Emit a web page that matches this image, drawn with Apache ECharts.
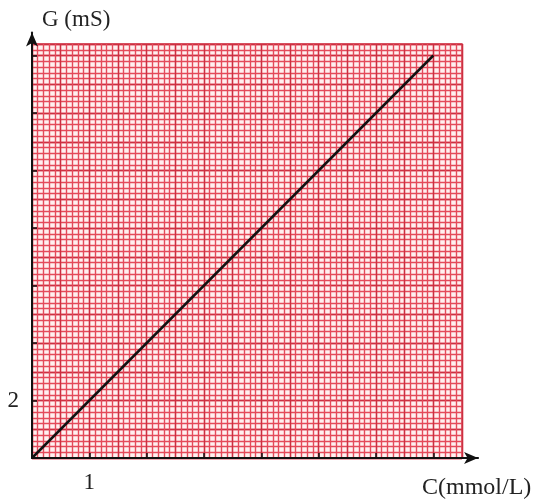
<!DOCTYPE html>
<html>
<head>
<meta charset="utf-8">
<script src="https://cdn.jsdelivr.net/npm/echarts@6/dist/echarts.min.js"></script>
<style>
  html, body { margin: 0; padding: 0; background: #fff; }
  #chart { width: 537px; height: 500px; }
</style>
</head>
<body>
<div id="chart"></div>
<script>
// data: G = 2 C
const linePoints = [[0, 0], [7, 14]];
const xTicks = [1, 2, 3, 4, 5, 6, 7];
const yTicks = [2, 4, 6, 8, 10, 12, 14];
const xLabels = [1];
const yLabels = [2];
const xMax = 7.5, yMax = 14.4;           // extent of the red paper
const xArrowMax = 7.78, yArrowMax = 14.8; // where the arrows end

// plot box in pixels
const left = 32, bottom = 42, plotW = 430, plotH = 414;
const pxX = plotW / xMax, pxY = plotH / yMax;

const minorColor = '#e44a5a';
const majorColor = '#cc2f41';
const serif = 'Liberation Serif';

const chart = echarts.init(document.getElementById('chart'));

function paperAxis(gridIndex, max, interval, color, width) {
  return {
    type: 'value', gridIndex: gridIndex, min: 0, max: max, interval: interval,
    axisLine: { show: false }, axisTick: { show: false }, axisLabel: { show: false },
    splitLine: { show: true, lineStyle: { color: color, width: width } }
  };
}

chart.setOption({
  animation: false,
  title: [
    { text: 'G (mS)', left: 37, top: 3,
      textStyle: { fontFamily: serif, fontSize: 23, fontWeight: 'normal', color: '#222' } },
    { text: 'C(mmol/L)', left: 417, top: 471,
      textStyle: { fontFamily: serif, fontSize: 24, fontWeight: 'normal', color: '#222' } }
  ],
  grid: [
    { left: left, bottom: bottom, width: plotW, height: plotH, show: true,
      backgroundColor: '#fff0f0', borderColor: majorColor, borderWidth: 1.4 },
    { left: left, bottom: bottom, width: xArrowMax * pxX, height: yArrowMax * pxY }
  ],
  xAxis: [
    paperAxis(0, xMax, 0.1, minorColor, 1.4),
    paperAxis(0, xMax, 0.5, majorColor, 1.3),
    {
      type: 'value', gridIndex: 1, min: 0, max: xArrowMax,
      splitLine: { show: false },
      axisLine: { show: true, symbol: ['none', 'arrow'], symbolSize: [9, 14],
        lineStyle: { color: '#111', width: 2 } },
      axisTick: { show: true, inside: true, length: 5, customValues: xTicks,
        lineStyle: { color: '#111', width: 1.5 } },
      axisLabel: { show: true, customValues: xLabels, margin: 13,
        fontFamily: serif, fontSize: 23, color: '#222' }
    }
  ],
  yAxis: [
    paperAxis(0, yMax, 0.2, minorColor, 1.4),
    paperAxis(0, yMax, 1, majorColor, 1.3),
    {
      type: 'value', gridIndex: 1, min: 0, max: yArrowMax,
      splitLine: { show: false },
      axisLine: { show: true, symbol: ['none', 'arrow'], symbolSize: [9, 14],
        lineStyle: { color: '#111', width: 2 } },
      axisTick: { show: true, inside: true, length: 5, customValues: yTicks,
        lineStyle: { color: '#111', width: 1.5 } },
      axisLabel: { show: true, customValues: yLabels, margin: 13,
        fontFamily: serif, fontSize: 23, color: '#222' }
    }
  ],
  series: [
    {
      type: 'line', xAxisIndex: 0, yAxisIndex: 0,
      data: linePoints, symbol: 'none',
      lineStyle: { color: '#111', width: 2.5 }
    }
  ]
});
</script>
</body>
</html>
